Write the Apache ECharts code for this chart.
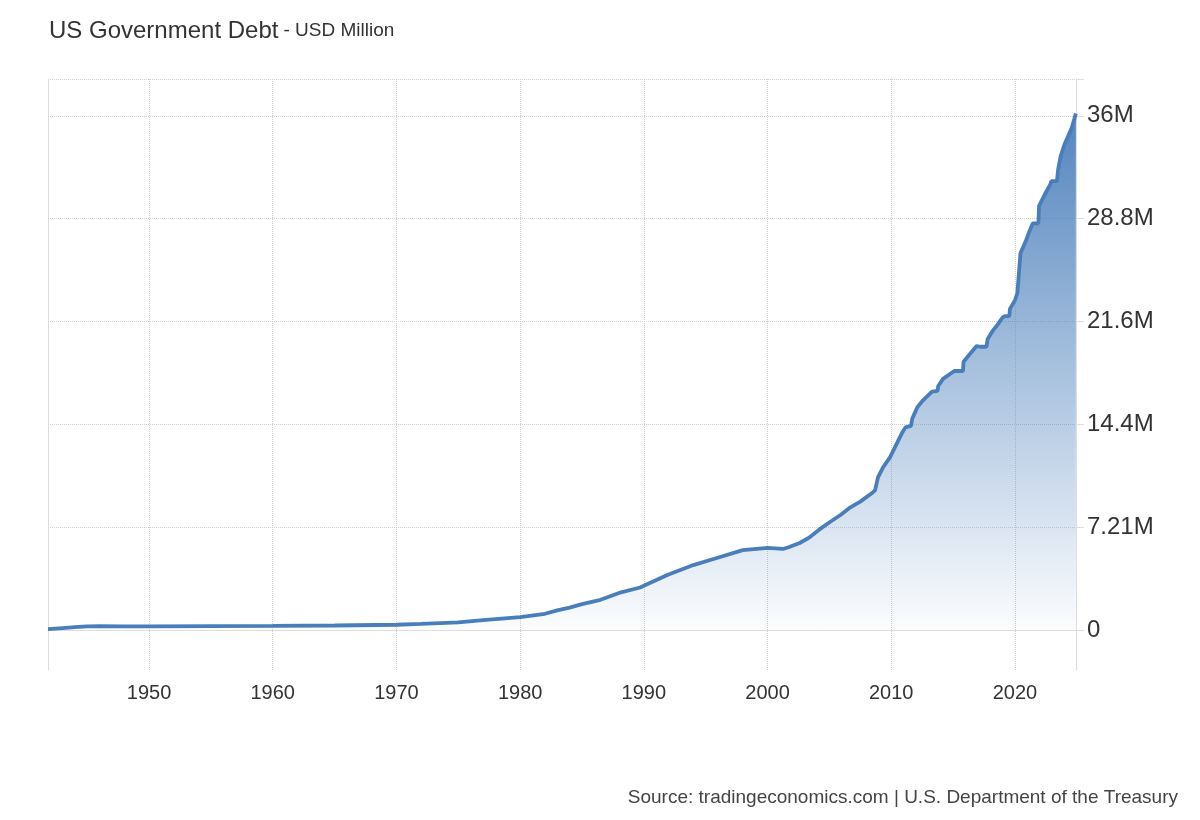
<!DOCTYPE html>
<html>
<head>
<meta charset="utf-8">
<script src="https://cdn.jsdelivr.net/npm/echarts@6/dist/echarts.min.js"></script>
<style>
  html, body { margin: 0; padding: 0; background: #fff; }
  #debt_chart { width: 1200px; height: 820px; }
</style>
</head>
<body>
<!-- chart div -->
<div id="debt_chart"></div>

<script type="text/javascript">
// time (decimal years) and debt in USD million
var years = [1941.83, 1943, 1944, 1945, 1946, 1948, 1950, 1955, 1960, 1965,
  1970, 1972, 1975, 1977, 1980, 1982, 1983, 1984, 1985, 1986.5,
  1988, 1989.7, 1990, 1991.9, 1994, 1995.9, 1998, 2000, 2001.25, 2001.7,
  2002.6, 2003.4, 2004.2, 2005.05, 2005.9, 2006.7, 2007.5, 2008.45, 2008.7, 2008.93,
  2009.34, 2009.9, 2010.3, 2010.87, 2011.15, 2011.6, 2011.7, 2012.1, 2012.57, 2013.3,
  2013.75, 2013.8, 2014.19, 2015.1, 2015.8, 2015.85, 2016.13, 2016.9, 2017.2, 2017.7,
  2017.8, 2018.23, 2018.6, 2019.0, 2019.2, 2019.55, 2019.6, 2020.0, 2020.2, 2020.45,
  2020.9, 2021.2, 2021.45, 2021.9, 2021.95, 2022.4, 2022.85, 2022.95, 2023.4, 2023.5,
  2023.7, 2024.0, 2024.3, 2024.6, 2024.8, 2024.93];
var debt = [70000, 140000, 200000, 259000, 269000, 252000, 257000, 274000, 286000, 317000,
  370000, 430000, 533000, 700000, 908000, 1140000, 1380000, 1570000, 1820000, 2120000,
  2600000, 2980000, 3100000, 3850000, 4550000, 5050000, 5600000, 5750000, 5680000, 5800000,
  6100000, 6500000, 7050000, 7570000, 8060000, 8600000, 9000000, 9600000, 9800000, 10700000,
  11400000, 12100000, 12800000, 13800000, 14200000, 14300000, 14800000, 15600000, 16100000, 16700000,
  16750000, 17100000, 17600000, 18150000, 18150000, 18800000, 19100000, 19900000, 19850000, 19850000,
  20400000, 21000000, 21400000, 21900000, 22000000, 22000000, 22500000, 23100000, 23600000, 26400000,
  27300000, 28000000, 28500000, 28500000, 29700000, 30500000, 31200000, 31450000, 31450000, 32300000,
  33200000, 34000000, 34600000, 35200000, 35800000, 36200000];

var xTicks = [1950, 1960, 1970, 1980, 1990, 2000, 2010, 2020];
var yTicks = [0, 7206000, 14412000, 21618000, 28824000, 36030000];
var yTickLabels = ['0', '7.21M', '14.4M', '21.6M', '28.8M', '36M'];

var xMin = 1941.83, xMax = 2024.94;
var yMin = -2800000, yMax = 38610000;

var points = [];
for (var i = 0; i < years.length; i++) {
  points.push([years[i], debt[i]]);
}

var debtChart = echarts.init(document.getElementById('debt_chart'));
var options = {
  animation: false,
  textStyle: { fontFamily: 'Liberation Sans, Arial, sans-serif' },
  title: [
    {
      left: 49, top: 19, padding: 0,
      text: '{a|US Government Debt} {b|- USD Million}',
      textStyle: {
        rich: {
          a: { fontSize: 24, color: '#333', fontWeight: 'normal', fontFamily: 'Liberation Sans' },
          b: { fontSize: 19, color: '#333', fontWeight: 'normal', fontFamily: 'Liberation Sans' }
        }
      }
    },
    {
      right: 22, bottom: 13, padding: 0,
      text: 'Source: tradingeconomics.com | U.S. Department of the Treasury',
      textStyle: { fontSize: 19, fontWeight: 'normal', color: '#444', fontFamily: 'Liberation Sans' }
    }
  ],
  grid: { left: 48, right: 124, top: 79, bottom: 150 },
  xAxis: {
    type: 'value',
    min: xMin,
    max: xMax,
    axisLine: { show: true, lineStyle: { color: '#dddddd', width: 1 } },
    axisTick: { show: false, customValues: xTicks },
    axisLabel: {
      customValues: xTicks,
      fontSize: 20, color: '#333', margin: 13,
      formatter: function (v) { return String(Math.round(v)); }
    },
    splitLine: { show: true, lineStyle: { color: '#d0d0d0', type: 'dotted', width: 1 } }
  },
  yAxis: [
    {
      type: 'value',
      position: 'right',
      min: yMin,
      max: yMax,
      axisLine: { show: true, lineStyle: { color: '#dddddd', width: 1 } },
      axisTick: { show: true, length: 8, customValues: yTicks.concat([yMax]), lineStyle: { color: '#dddddd' } },
      axisLabel: {
        customValues: yTicks,
        fontSize: 24, color: '#333', margin: 11,
        formatter: function (v) {
          var idx = yTicks.indexOf(v);
          return idx >= 0 ? yTickLabels[idx] : '';
        }
      },
      splitLine: { show: true, lineStyle: { color: '#d0d0d0', type: 'dotted', width: 1 } }
    },
    {
      type: 'value',
      position: 'left',
      min: yMin,
      max: yMax,
      axisLine: { show: true, lineStyle: { color: '#dddddd', width: 1 } },
      axisTick: { show: false },
      axisLabel: { show: false },
      splitLine: { show: false }
    }
  ],
  series: [
    {
      name: 'US Government Debt',
      type: 'line',
      data: points,
      showSymbol: false,
      smooth: false,
      lineStyle: { color: '#4a7ebb', width: 3.8 },
      itemStyle: { color: '#4a7ebb' },
      areaStyle: {
        origin: 0,
        opacity: 1,
        color: new echarts.graphic.LinearGradient(0, 0, 0, 1, [
          { offset: 0, color: 'rgba(74,126,187,0.95)' },
          { offset: 0.5, color: 'rgba(74,126,187,0.48)' },
          { offset: 1, color: 'rgba(74,126,187,0.02)' }
        ])
      }
    }
  ]
};
debtChart.setOption(options);
</script>
</body>
</html>
